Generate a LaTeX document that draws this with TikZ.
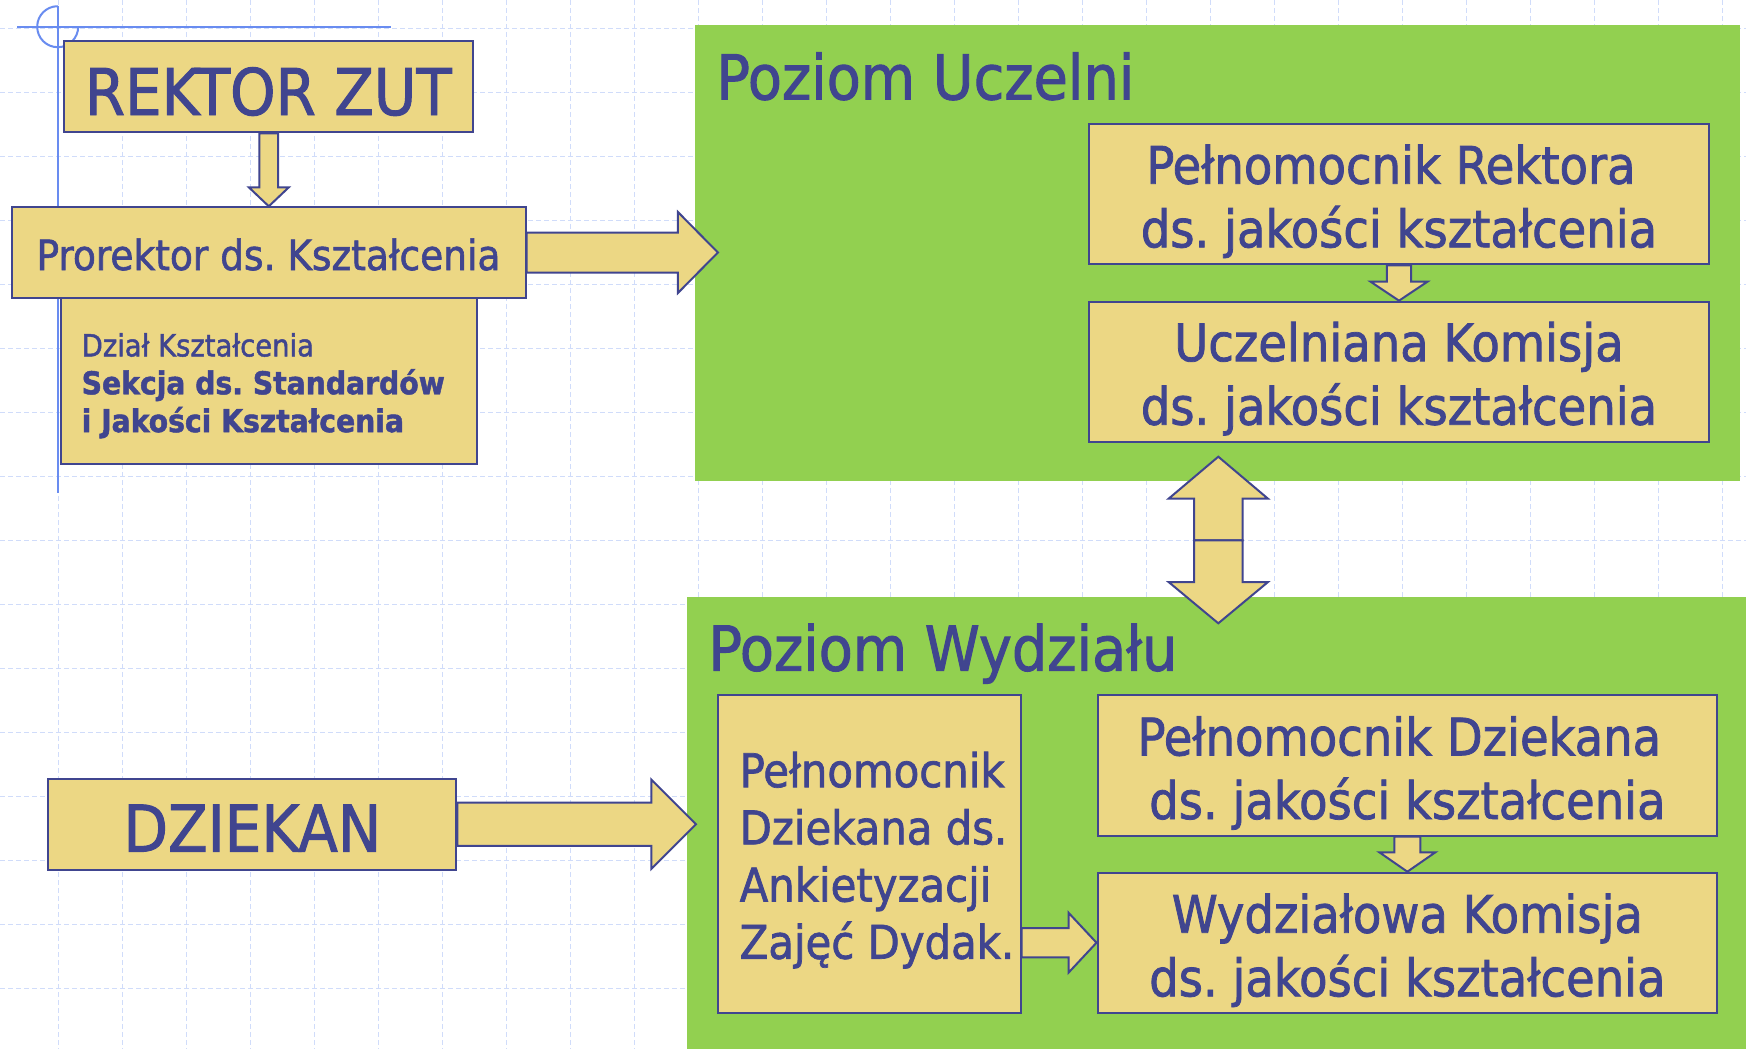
\documentclass[tikz,border=0pt]{standalone}
\usepackage{fontspec}
\setmainfont{DejaVu Sans Condensed}[FakeBold=1.5]
\usetikzlibrary{calc,fit}
\definecolor{boxfill}{RGB}{236,215,132}
\definecolor{ink}{RGB}{64,69,143}
\definecolor{zgreen}{RGB}{146,208,80}
\definecolor{crossblue}{RGB}{105,140,240}
\definecolor{gridblue}{RGB}{208,220,250}
\newcommand\fsBig{\fontsize{32.2pt}{37pt}\selectfont}
\newcommand\fsLevel{\fontsize{31pt}{37pt}\selectfont}
\newcommand\fsPro{\fontsize{20.85pt}{25pt}\selectfont}
\newcommand\fsRight{\fontsize{25.85pt}{31.8pt}\selectfont}
\newcommand\fsAnk{\fontsize{23.25pt}{28.6pt}\selectfont}
\newcommand\fsDzial{\fontsize{15.25pt}{18.925pt}\selectfont}
\newcommand\fsDzialB{\fontsize{15.7pt}{18.925pt}\selectfont\bfseries}
\newcommand\blockdown[5]{\draw[barrow] ($(#1)+(-#3,0)$) -- ($(#2)+(-#3,-#5)$) -- ($(#2)+(-#4,-#5)$) -- (#2) -- ($(#2)+(#4,-#5)$) -- ($(#2)+(#3,-#5)$) -- ($(#1)+(#3,0)$) -- cycle;}
\newcommand\blockup[5]{\draw[barrow] ($(#1)+(-#3,0)$) -- ($(#2)+(-#3,#5)$) -- ($(#2)+(-#4,#5)$) -- (#2) -- ($(#2)+(#4,#5)$) -- ($(#2)+(#3,#5)$) -- ($(#1)+(#3,0)$) -- cycle;}
\newcommand\blockright[5]{\draw[barrow] ($(#1)+(0,-#3)$) -- ($(#2)+(-#5,-#3)$) -- ($(#2)+(-#5,-#4)$) -- (#2) -- ($(#2)+(-#5,#4)$) -- ($(#2)+(-#5,#3)$) -- ($(#1)+(0,#3)$) -- cycle;}
\tikzset{
  box/.style={draw=ink, fill=boxfill, line width=1pt, inner sep=0pt, rectangle},
  level/.style={fill=zgreen, inner sep=0pt, rectangle},
  barrow/.style={draw=ink, fill=boxfill, line width=1pt, line join=miter},
  txt/.style={text=ink, inner sep=0pt},
  gridline/.style={gridblue, line width=0.75pt, dash pattern=on 2.5pt off 1.5pt},
  cross/.style={crossblue, line width=1pt},
}
\frenchspacing
\begin{document}
\begin{tikzpicture}[x=0.5pt,y=-0.5pt]
\fill[white] (0,0) rectangle (1746,1049);
\useasboundingbox (0,0) rectangle (1746,1049);
% grid
\foreach \k in {0,...,27} \draw[gridline] ({-5.7+64*\k},0) -- ({-5.7+64*\k},1049);
\foreach \k in {0,...,15} \draw[gridline] (0,{28.7+64*\k}) -- (1746,{28.7+64*\k});
% crosshair
\coordinate (cross) at (57.7,26.7);
\draw[cross] ($(cross)+(-40.7,0)$) -- ($(cross)+(333.3,0)$);
\draw[cross] ($(cross)+(0,-21)$) -- ($(cross)+(0,466.3)$);
\draw[cross] ($(cross)+(20.5,0)$) arc[start angle=0,end angle=270,radius=20.5];
% levels
\node[level, fit={(695,25) (1740,480.7)}] (uczelnia) {};
\node[level, fit={(686.7,596.7) (1746,1049)}] (wydzial) {};
% boxes
\node[box, fit={(64.3,41) (473.3,132.3)}] (rektor) {};
\node[box, fit={(11.7,207.3) (525.7,297.7)}] (prorektor) {};
\node[box, fit={(61,297.7) (476.7,464)}] (dzial) {};
\node[box, fit={(1089,124) (1709,264.3)}] (pelrek) {};
\node[box, fit={(1089,301.7) (1709,442.3)}] (uczkom) {};
\node[box, fit={(718.3,695) (1020.7,1012.7)}] (ankiet) {};
\node[box, fit={(1097.5,695) (1717.2,835.7)}] (peldziek) {};
\node[box, fit={(1097.5,872.7) (1717.2,1012.7)}] (wydzkom) {};
\node[box, fit={(48.2,778.6) (456.3,869.9)}] (dziekan) {};
% texts
\node[txt, anchor=base, font=\fsBig] (tRektor) at (268.3,115) {REKTOR ZUT};
\node[txt, anchor=base, font=\fsPro] (tPro) at (268.5,270) {Prorektor ds. Kształcenia};
\node[txt, anchor=north west, align=left, font=\fsDzial] (tDzial) at (81.3,329.5)
  {\strut Dział Kształcenia\\{\fsDzialB\strut Sekcja ds. Standardów}\\{\fsDzialB\strut i Jakości Kształcenia}};
\node[txt, anchor=base west, font=\fsLevel] (tUcz) at (716,99.5) {Poziom Uczelni};
\node[txt, anchor=north, align=center, font=\fsRight] (tPelRek) at (1399,138.8)
  {\strut Pełnomocnik Rektora\kern0.31em\\\strut ds. jakości kształcenia};
\node[txt, anchor=north, align=center, font=\fsRight] (tUczKom) at (1399,316.2)
  {\strut Uczelniana Komisja\\\strut ds. jakości kształcenia};
\node[txt, anchor=base west, font=\fsLevel] (tWyd) at (708,670.7) {Poziom Wydziału};
\node[txt, anchor=north west, align=left, font=\fsAnk] (tAnk) at (739.3,746.7)
  {\strut Pełnomocnik\\\strut Dziekana ds.\\\strut Ankietyzacji\\\strut Zajęć Dydak.};
\node[txt, anchor=north, align=center, font=\fsRight] (tPelDziek) at (1407.4,710.5)
  {\strut Pełnomocnik Dziekana\kern0.31em\\\strut ds. jakości kształcenia};
\node[txt, anchor=north, align=center, font=\fsRight] (tWydzKom) at (1407.4,887.8)
  {\strut Wydziałowa Komisja\\\strut ds. jakości kształcenia};
\node[txt, anchor=base, font=\fsBig] (tDziekan) at (252.3,851.6) {DZIEKAN};
% connectors
\coordinate (a1t) at (rektor.south |- prorektor.north);
\blockdown{rektor.south}{a1t}{9.35}{20}{19}
\coordinate (p1) at (prorektor.east -| uczelnia.west);
\coordinate (a2t) at ($(p1)+(23.3,0)$);
\blockright{prorektor.east}{a2t}{20}{40.5}{40}
\coordinate (a3t) at (pelrek.south |- uczkom.north);
\blockdown{pelrek.south}{a3t}{12.2}{28.4}{19}
\coordinate (dm) at (1218.3,540.3);
\coordinate (dtop) at ($(dm)+(0,-83.6)$);
\coordinate (dbot) at ($(dm)+(0,83)$);
\blockup{dm}{dtop}{24.2}{49.7}{42}
\blockdown{dm}{dbot}{24.2}{49.7}{41.3}
\coordinate (a5t) at (peldziek.south |- wydzkom.north);
\blockdown{peldziek.south}{a5t}{12.9}{28}{19.4}
\coordinate (a6s) at (ankiet.east |- wydzkom.west);
\blockright{a6s}{wydzkom.west}{14.7}{30}{28}
\coordinate (p7) at (dziekan.east -| wydzial.west);
\coordinate (a7t) at ($(p7)+(9.7,0)$);
\blockright{dziekan.east}{a7t}{21.7}{44.6}{44.6}
\end{tikzpicture}
\end{document}
